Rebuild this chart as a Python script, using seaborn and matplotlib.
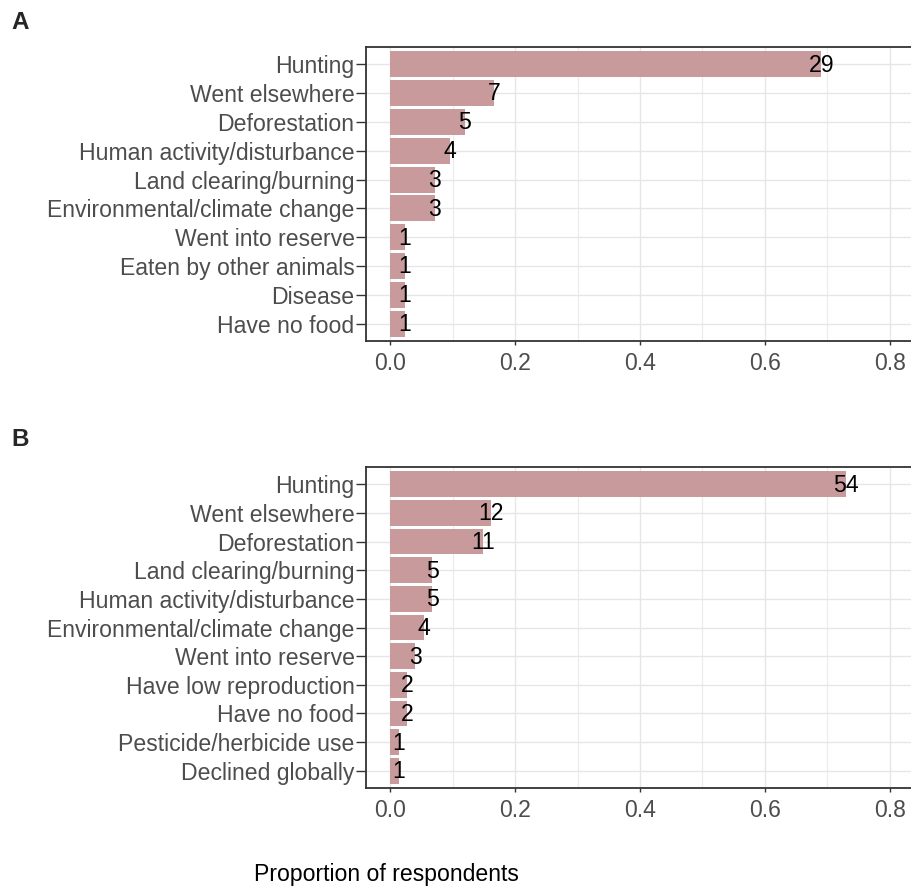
import matplotlib
matplotlib.use("Agg")
import matplotlib.pyplot as plt
from matplotlib.ticker import MultipleLocator
import numpy as np
import pandas as pd
import seaborn as sns

# Reasons given for species decline, panel A
reasons_a = ["Hunting", "Went elsewhere", "Deforestation", "Human activity/disturbance",
             "Land clearing/burning", "Environmental/climate change", "Went into reserve",
             "Eaten by other animals", "Disease", "Have no food"]
counts_a = [29, 7, 5, 4, 3, 3, 1, 1, 1, 1]
n_a = 42

# Reasons given for species decline, panel B
reasons_b = ["Hunting", "Went elsewhere", "Deforestation", "Land clearing/burning",
             "Human activity/disturbance", "Environmental/climate change", "Went into reserve",
             "Have low reproduction", "Have no food", "Pesticide/herbicide use", "Declined globally"]
counts_b = [54, 12, 11, 5, 5, 4, 3, 2, 2, 1, 1]
n_b = 74

x_ticks = [0.0, 0.2, 0.4, 0.6, 0.8]
x_tick_labels = ["0.0", "0.2", "0.4", "0.6", "0.8"]

BAR = "#C99A9B"
FONT = ["Liberation Sans", "DejaVu Sans"]
FS = 16.6

sns.set_style("white")
plt.rcParams["font.family"] = FONT

W, H = 912, 894
fig = plt.figure(figsize=(W / 100, H / 100), dpi=100)


def px_axes(left, top, right, bottom):
    return fig.add_axes([left / W, 1 - bottom / H, (right - left) / W, (bottom - top) / H])


def panel(ax, reasons, counts, n):
    df = pd.DataFrame({"reason": reasons, "count": counts})
    df["prop"] = df["count"] / n
    ax.set_axisbelow(True)
    sns.barplot(data=df, x="prop", y="reason", orient="h", color=BAR,
                saturation=1, width=0.9, ax=ax, edgecolor="none")
    for i, (p, c) in enumerate(zip(df["prop"], df["count"])):
        ax.text(p, i + 0.03, str(c), ha="center", va="center",
                fontsize=FS, color="black")
    ax.set_xlim(-0.0387, 0.8355)
    ax.set_ylim(len(reasons) - 0.4, -0.6)
    ax.set_xticks(x_ticks)
    ax.set_xticklabels(x_tick_labels)
    ax.xaxis.set_minor_locator(MultipleLocator(0.1))
    ax.grid(which="major", axis="both", color="#E6E6E6", linewidth=1.0)
    ax.grid(which="minor", axis="x", color="#EBEBEB", linewidth=0.8)
    ax.set_xlabel("")
    ax.set_ylabel("")
    ax.tick_params(axis="both", which="major", labelsize=FS, labelcolor="#4D4D4D",
                   color="#333333", width=1.0, direction="out",
                   left=True, bottom=True)
    ax.tick_params(axis="x", which="major", length=3, pad=4.8)
    ax.tick_params(axis="y", which="major", length=7, pad=1.2)
    ax.tick_params(which="minor", length=0)
    for s in ax.spines.values():
        s.set_visible(True)
        s.set_color("#333333")
        s.set_linewidth(1.3)


ax_a = px_axes(366, 47, 912, 341)
panel(ax_a, reasons_a, counts_a, n_a)
ax_b = px_axes(366, 467, 912, 788)
panel(ax_b, reasons_b, counts_b, n_b)

fig.text(11 / W, 1 - 22.5 / H, "A", fontsize=17.5, fontweight="bold", ha="left", va="center")
fig.text(11 / W, 1 - 439 / H, "B", fontsize=17.5, fontweight="bold", ha="left", va="center")
fig.text(386 / W, 1 - 875 / H, "Proportion of respondents", fontsize=FS,
         color="black", ha="center", va="center")

fig.savefig("out.png", dpi=100, facecolor="white")
